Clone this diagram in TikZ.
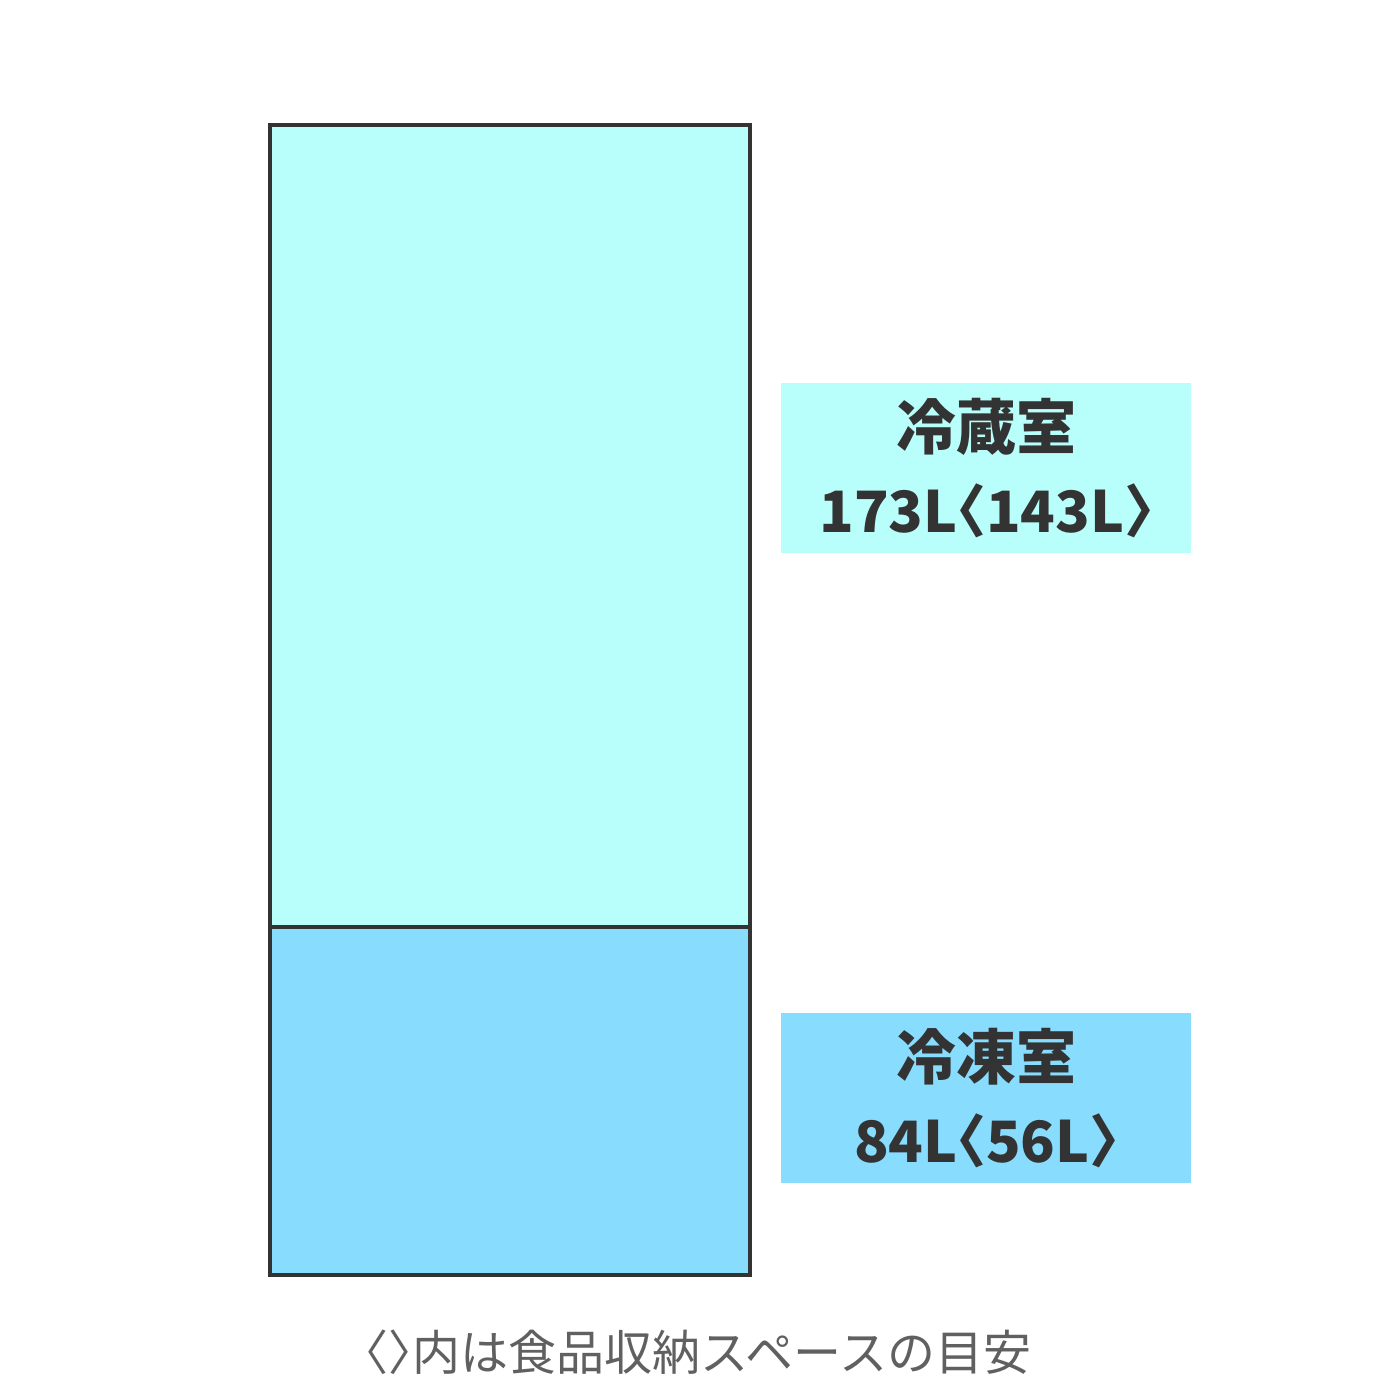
\documentclass[tikz,border=0pt]{standalone}
\usepackage{fontspec}
\newfontfamily\cjk{Noto Sans CJK JP}
\newfontfamily\cjknarrow[RawFeature=+halt]{Noto Sans CJK JP}
\definecolor{fridgecol}{HTML}{B8FFFC}
\definecolor{freezercol}{HTML}{88DDFF}
\definecolor{edgecol}{HTML}{333333}
\definecolor{notecol}{HTML}{606060}
\newcommand{\volsize}{\fontsize{28.5}{41.5}\selectfont}
\begin{document}
\begin{tikzpicture}[x=0.5pt, y=-0.5pt,
    labelbox/.style={minimum width=205pt, minimum height=85pt, inner sep=0pt, align=center,
      text=edgecol, font=\cjk\bfseries\fontsize{30}{41.5}\selectfont}]
  \useasboundingbox (0,0) rectangle (1400,1400);
  % Compartments
  \fill[fridgecol] (270,125) rectangle (750,927);
  \fill[freezercol] (270,927) rectangle (750,1275);
  \draw[edgecol, line width=2pt] (270,125) rectangle (750,1275);
  \draw[edgecol, line width=2pt] (270,927) -- (750,927);
  % Labels
  \node[labelbox, fill=fridgecol] (fridge) at (986,468) {冷蔵室\\\volsize 173L{\cjknarrow\bfseries 〈}143L{\cjknarrow\bfseries 〉}};
  \node[labelbox, fill=freezercol] (freezer) at (986,1098) {冷凍室\\\volsize 84L{\cjknarrow\bfseries 〈}56L{\cjknarrow\bfseries 〉}};
  % Note
  \node[text=notecol, font=\cjk\fontsize{24}{24}\selectfont] (note) at (698,1352) {{\cjknarrow 〈〉}内は食品収納スペースの目安};
\end{tikzpicture}
\end{document}
